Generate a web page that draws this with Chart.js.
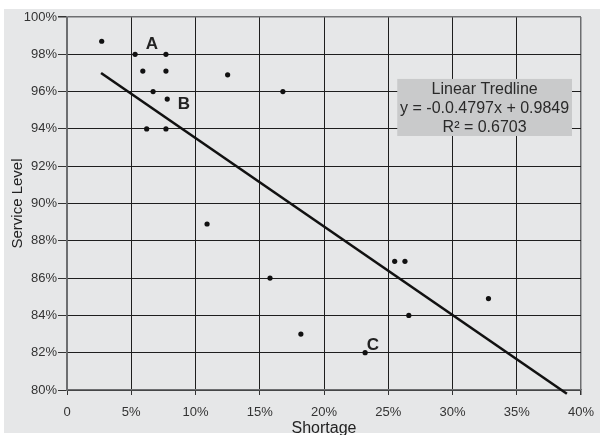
<!DOCTYPE html>
<html>
<head>
<meta charset="utf-8">
<script src="https://cdn.jsdelivr.net/npm/chart.js@4/dist/chart.umd.min.js"></script>
<style>
  html, body { margin: 0; padding: 0; background: #fff; }
  #wrap { width: 600px; height: 435px; }
</style>
</head>
<body>
<div id="wrap"><canvas id="c" width="600" height="435"></canvas></div>
<script>
// Data (percent units)
const shortage     = [2.7, 5.3, 7.7, 5.9, 7.7, 6.7, 7.8, 6.2, 7.7, 12.5, 16.8, 10.9, 15.8, 18.2, 25.5, 26.3, 32.8, 26.6, 23.2];
const serviceLevel = [98.7, 98.0, 98.0, 97.1, 97.1, 96.0, 95.6, 94.0, 94.0, 96.9, 96.0, 88.9, 86.0, 83.0, 86.9, 86.9, 84.9, 84.0, 82.0];

// Trend line end points as drawn
const trendX = [2.65, 38.9];
const trendY = [97.0, 79.8];

// Point labels
const markLabels = ['A', 'B', 'C'];
const markLabelX = [6.6, 9.1, 23.8];
const markLabelY = [98.55, 95.33, 82.4];

// Tick settings
const xTicksMin = 0, xTicksMax = 40, xStep = 5;
const yTicksMin = 80, yTicksMax = 100, yStep = 2;

// Trend box text
const boxLines = ['Linear Tredline', 'y = -0.0.4797x + 0.9849', 'R\u00B2 = 0.6703'];
const boxX = [25.7, 39.3];
const boxY = [96.68, 93.62];

const FONT = '"Liberation Sans", Arial, Helvetica, sans-serif';
const BG = '#e6e7e8';

const points = shortage.map((x, i) => ({ x: x, y: serviceLevel[i] }));
const trend = trendX.map((x, i) => ({ x: x, y: trendY[i] }));

const bgPlugin = {
  id: 'bg',
  beforeDraw(chart) {
    const ctx = chart.ctx;
    ctx.save();
    ctx.fillStyle = '#ffffff';
    ctx.fillRect(0, 0, chart.width, chart.height);
    ctx.fillStyle = BG;
    ctx.fillRect(4, 9, chart.width - 4, chart.height - 11);
    ctx.restore();
  }
};

const annotPlugin = {
  id: 'annot',
  afterDatasetsDraw(chart) {
    const ctx = chart.ctx;
    const xs = chart.scales.x, ys = chart.scales.y;
    ctx.save();
    // labels A, B, C
    ctx.fillStyle = '#222';
    ctx.font = 'bold 17px ' + FONT;
    ctx.textAlign = 'center';
    ctx.textBaseline = 'middle';
    markLabels.forEach((t, i) => {
      ctx.fillText(t, xs.getPixelForValue(markLabelX[i]), ys.getPixelForValue(markLabelY[i]));
    });
    // trend box
    const x0 = xs.getPixelForValue(boxX[0]), x1 = xs.getPixelForValue(boxX[1]);
    const y0 = ys.getPixelForValue(boxY[0]), y1 = ys.getPixelForValue(boxY[1]);
    ctx.fillStyle = '#c9cacb';
    ctx.fillRect(x0, y0, x1 - x0, y1 - y0);
    ctx.fillStyle = '#2a2a2a';
    ctx.font = '16px ' + FONT;
    const cx = (x0 + x1) / 2;
    const lh = (y1 - y0) / 3;
    boxLines.forEach((t, i) => {
      ctx.fillText(t, cx, y0 + lh * (i + 0.5) + 1);
    });
    ctx.restore();
  }
};

new Chart(document.getElementById('c'), {
  data: {
    datasets: [
      {
        type: 'scatter',
        data: points,
        backgroundColor: '#111',
        borderWidth: 0,
        pointRadius: 2.6,
        pointHoverRadius: 2.6
      },
      {
        type: 'line',
        data: trend,
        borderColor: '#111',
        borderWidth: 2.6,
        pointRadius: 0,
        fill: false,
        clip: false
      }
    ]
  },
  options: {
    responsive: false,
    animation: false,
    events: [],
    layout: { padding: { top: 17, right: 19, left: 0, bottom: 0 } },
    plugins: { legend: { display: false }, tooltip: { enabled: false } },
    scales: {
      x: {
        type: 'linear',
        min: xTicksMin, max: xTicksMax,
        afterFit(s) { s.height = 45; s.paddingLeft = 0; s.paddingRight = 0; },
        ticks: {
          stepSize: xStep,
          color: '#333',
          padding: 10,
          font: { family: FONT, size: 13 },
          callback: v => v === 0 ? '0' : v + '%'
        },
        grid: {
          color: c => (c.index === 0 || c.tick && c.tick.value === xTicksMax) ? '#6d6e70' : '#1e1e1e',
          lineWidth: c => (c.tick && c.tick.value === xTicksMax) ? 1.5 : 1,
          tickLength: 5,
          tickColor: '#333'
        },
        border: { color: '#6d6e70', width: 1.5 },
        title: {
          display: true, text: 'Shortage', color: '#222',
          font: { family: FONT, size: 16 },
          padding: { top: 0, bottom: -3 }
        }
      },
      y: {
        type: 'linear',
        min: yTicksMin, max: yTicksMax,
        afterFit(s) { s.width = 67; s.paddingTop = 0; s.paddingBottom = 0; },
        ticks: {
          stepSize: yStep,
          color: '#333',
          padding: 1,
          font: { family: FONT, size: 13 },
          callback: v => v + '%'
        },
        grid: {
          color: c => (c.tick && c.tick.value === yTicksMax) ? '#6d6e70' : '#1e1e1e',
          lineWidth: c => (c.tick && c.tick.value === yTicksMax) ? 1.5 : 1,
          tickLength: 9,
          tickColor: '#333'
        },
        border: { color: '#6d6e70', width: 1.5 },
        title: {
          display: true, text: 'Service Level', color: '#222',
          font: { family: FONT, size: 15 },
          padding: { top: 9, bottom: 0 }
        }
      }
    }
  },
  plugins: [bgPlugin, annotPlugin]
});
</script>
</body>
</html>
